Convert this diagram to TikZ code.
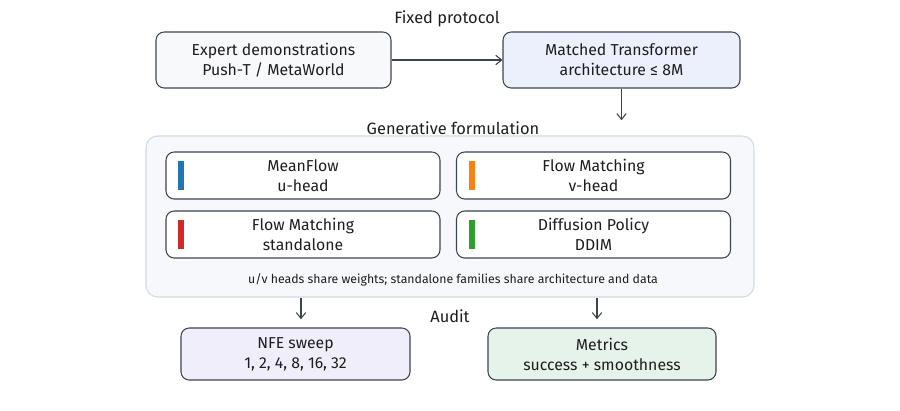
\documentclass[tikz,border=0pt]{standalone}
\usepackage{fontspec}
\setmainfont{Fira Sans}
\usetikzlibrary{positioning,arrows.meta}
\definecolor{ink}{HTML}{1E1E1E}
\definecolor{edge}{HTML}{3D4451}
\definecolor{panelfill}{HTML}{F6F8FB}
\definecolor{paneledge}{HTML}{D3DAE4}
\definecolor{datafill}{HTML}{F8F9FB}
\definecolor{archfill}{HTML}{ECEFFC}
\definecolor{nfefill}{HTML}{F0EEFB}
\definecolor{metfill}{HTML}{E5F3EA}
\definecolor{mfblue}{HTML}{1F77B4}
\definecolor{fmorange}{HTML}{FF7F0E}
\definecolor{fmred}{HTML}{D62728}
\definecolor{dpgreen}{HTML}{2CA02C}
\tikzset{
stage/.style={
  draw=edge,
  line width=0.9pt,
  rounded corners=7pt,
  align=center,
  text=ink,
  font=\fontsize{13.5}{17}\selectfont,
  minimum height=1.68cm
  },
family/.style={
  stage,
  fill=white,
  minimum width=8.22cm,
  minimum height=1.41cm
  },
caption/.style={
  text=ink,
  font=\fontsize{14}{16}\selectfont
  },
flow/.style={
  ->,
  draw=edge,
  line width=0.9pt
  }
}

\begin{document}
\begin{tikzpicture}[x=0.03cm,y=-0.03cm,>={Straight Barb[length=5pt,width=8pt]}]
\useasboundingbox (0,0) rectangle (900,410);

% fixed protocol
\node[caption] (fixed) at (447,19) {Fixed protocol};
\node[stage,fill=datafill,minimum width=7.05cm] (demos) at (273.5,60)
  {Expert demonstrations\\Push-T / MetaWorld};
\node[stage,fill=archfill,minimum width=7.11cm] (arch) at (621.5,60)
  {Matched Transformer\\architecture ≤ 8M};

% generative formulation
\node[caption] (genlabel) at (453,128) {Generative formulation};
\node[draw=paneledge,fill=panelfill,line width=0.9pt,rounded corners=10pt,
  minimum width=18.24cm,minimum height=4.83cm] (panel) at (450,216.5) {};

\node[family] (meanflow) at (303,175.5) {MeanFlow\\u-head};
\node[family] (vhead) at (593.5,175.5) {Flow Matching\\v-head};
\node[family] (standalone) at (303,234.5) {Flow Matching\\standalone};
\node[family] (ddim) at (593.5,234.5) {Diffusion Policy\\DDIM};

\foreach \fam/\col in {meanflow/mfblue,vhead/fmorange,standalone/fmred,ddim/dpgreen}
  \fill[\col] ([xshift=11pt,yshift=-8pt]\fam.north west) rectangle ++(5pt,-25pt);

\node[text=ink,font=\fontsize{10.5}{12}\selectfont] (note) at (453,280)
  {u/v heads share weights; standalone families share architecture and data};

% audit
\node[caption] (audit) at (450,316) {Audit};
\node[stage,fill=nfefill,minimum width=6.87cm,minimum height=1.56cm] (nfe) at (295.5,354)
  {NFE sweep\\1, 2, 4, 8, 16, 32};
\node[stage,fill=metfill,minimum width=6.84cm,minimum height=1.56cm] (metrics) at (602,354)
  {Metrics\\success + smoothness};

\coordinate (nfein) at ([xshift=0.165cm]nfe.north);
\coordinate (metin) at ([xshift=-0.15cm]metrics.north);

\draw[flow] (demos) -- (arch);
\draw[flow,shorten >=13pt] (arch) -- (arch |- panel.north);
\draw[flow,shorten >=7pt] (panel.south -| nfein) -- (nfein);
\draw[flow,shorten >=7pt] (panel.south -| metin) -- (metin);
\end{tikzpicture}
\end{document}
